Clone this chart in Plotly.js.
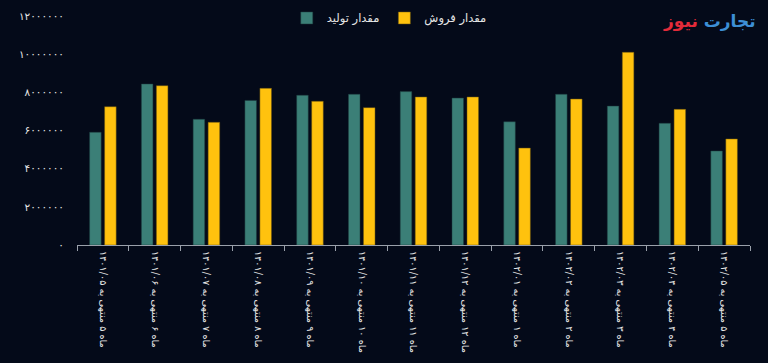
<!DOCTYPE html>
<html>
<head>
<meta charset="utf-8">
<script src="https://cdn.plot.ly/plotly-3.0.1.min.js"></script>
<style>
html,body{margin:0;padding:0;background:#040a19;}
#chart{width:768px;height:363px;}
</style>
</head>
<body>
<div id="chart"></div>
<script>
const categories = [
  "ماه ۵ منتهی به ۱۴۰۱/۰۵",
  "ماه ۶ منتهی به ۱۴۰۱/۰۶",
  "ماه ۷ منتهی به ۱۴۰۱/۰۷",
  "ماه ۸ منتهی به ۱۴۰۱/۰۸",
  "ماه ۹ منتهی به ۱۴۰۱/۰۹",
  "ماه ۱۰ منتهی به ۱۴۰۱/۱۰",
  "ماه ۱۱ منتهی به ۱۴۰۱/۱۱",
  "ماه ۱۲ منتهی به ۱۴۰۱/۱۲",
  "ماه ۱ منتهی به ۱۴۰۲/۰۱",
  "ماه ۲ منتهی به ۱۴۰۲/۰۲",
  "ماه ۳ منتهی به ۱۴۰۲/۰۳",
  "ماه ۴ منتهی به ۱۴۰۲/۰۴",
  "ماه ۵ منتهی به ۱۴۰۲/۰۵"
];
const production = [5910000, 8440000, 6590000, 7580000, 7850000, 7900000, 8040000, 7700000, 6460000, 7900000, 7280000, 6380000, 4930000];
const sales = [7250000, 8350000, 6430000, 8210000, 7530000, 7200000, 7760000, 7760000, 5080000, 7650000, 10100000, 7110000, 5560000];
const yTickVals = [0, 2000000, 4000000, 6000000, 8000000, 10000000, 12000000];
const yTickText = ["۰", "۲۰۰۰۰۰۰", "۴۰۰۰۰۰۰", "۶۰۰۰۰۰۰", "۸۰۰۰۰۰۰", "۱۰۰۰۰۰۰۰", "۱۲۰۰۰۰۰۰"];
const seriesNames = ["مقدار تولید", "مقدار فروش"];

const font = "DejaVu Sans, Noto Sans, sans-serif";
const traces = [
  {type: "bar", name: seriesNames[0], x: categories, y: production,
   marker: {color: "#3b7f77", line: {color: "#1f3d3f", width: 0.5}}},
  {type: "bar", name: seriesNames[1], x: categories, y: sales,
   marker: {color: "#ffc20e", line: {color: "#6b5410", width: 0.5}}}
];
const layout = {
  width: 768, height: 363,
  paper_bgcolor: "#040a19", plot_bgcolor: "#040a19",
  margin: {l: 77, r: 18, t: 5, b: 118, autoexpand: false},
  barmode: "group", bargap: 0.42, bargroupgap: 0.23,
  showlegend: true,
  legend: {orientation: "h", x: 0.464, xanchor: "center", y: 0.946, yanchor: "middle",
           font: {family: font, size: 11.5, color: "#e6e6e6"}, bgcolor: "rgba(0,0,0,0)",
           itemwidth: 30, traceorder: "normal"},
  font: {family: font, color: "#e0e0e0"},
  xaxis: {type: "category", tickangle: 90, tickson: "boundaries", ticks: "outside",
          ticklen: 5, tickcolor: "#9aa0aa", showline: true, linecolor: "#9aa0aa", linewidth: 1,
          showgrid: false, zeroline: false, ticklabelstandoff: 3,
          tickfont: {family: font, size: 9.7, color: "#e6e6e6"}},
  yaxis: {range: [0, 12580000], tickvals: yTickVals, ticktext: yTickText,
          showgrid: false, zeroline: false, showline: false, ticks: "",
          ticklabelstandoff: 12,
          tickfont: {family: font, size: 10.5, color: "#e6e6e6"}},
  annotations: [{
    xref: "paper", yref: "paper", x: 1.012, y: 0.93, xanchor: "right", yanchor: "middle",
    showarrow: false,
    text: "<b><span style='color:#3d8fd6'>تجارت</span> <span style='color:#e32b3a'>نیوز</span></b>",
    font: {family: font, size: 17}
  }]
};
Plotly.newPlot("chart", traces, layout, {displayModeBar: false, staticPlot: true});
</script>
</body>
</html>
